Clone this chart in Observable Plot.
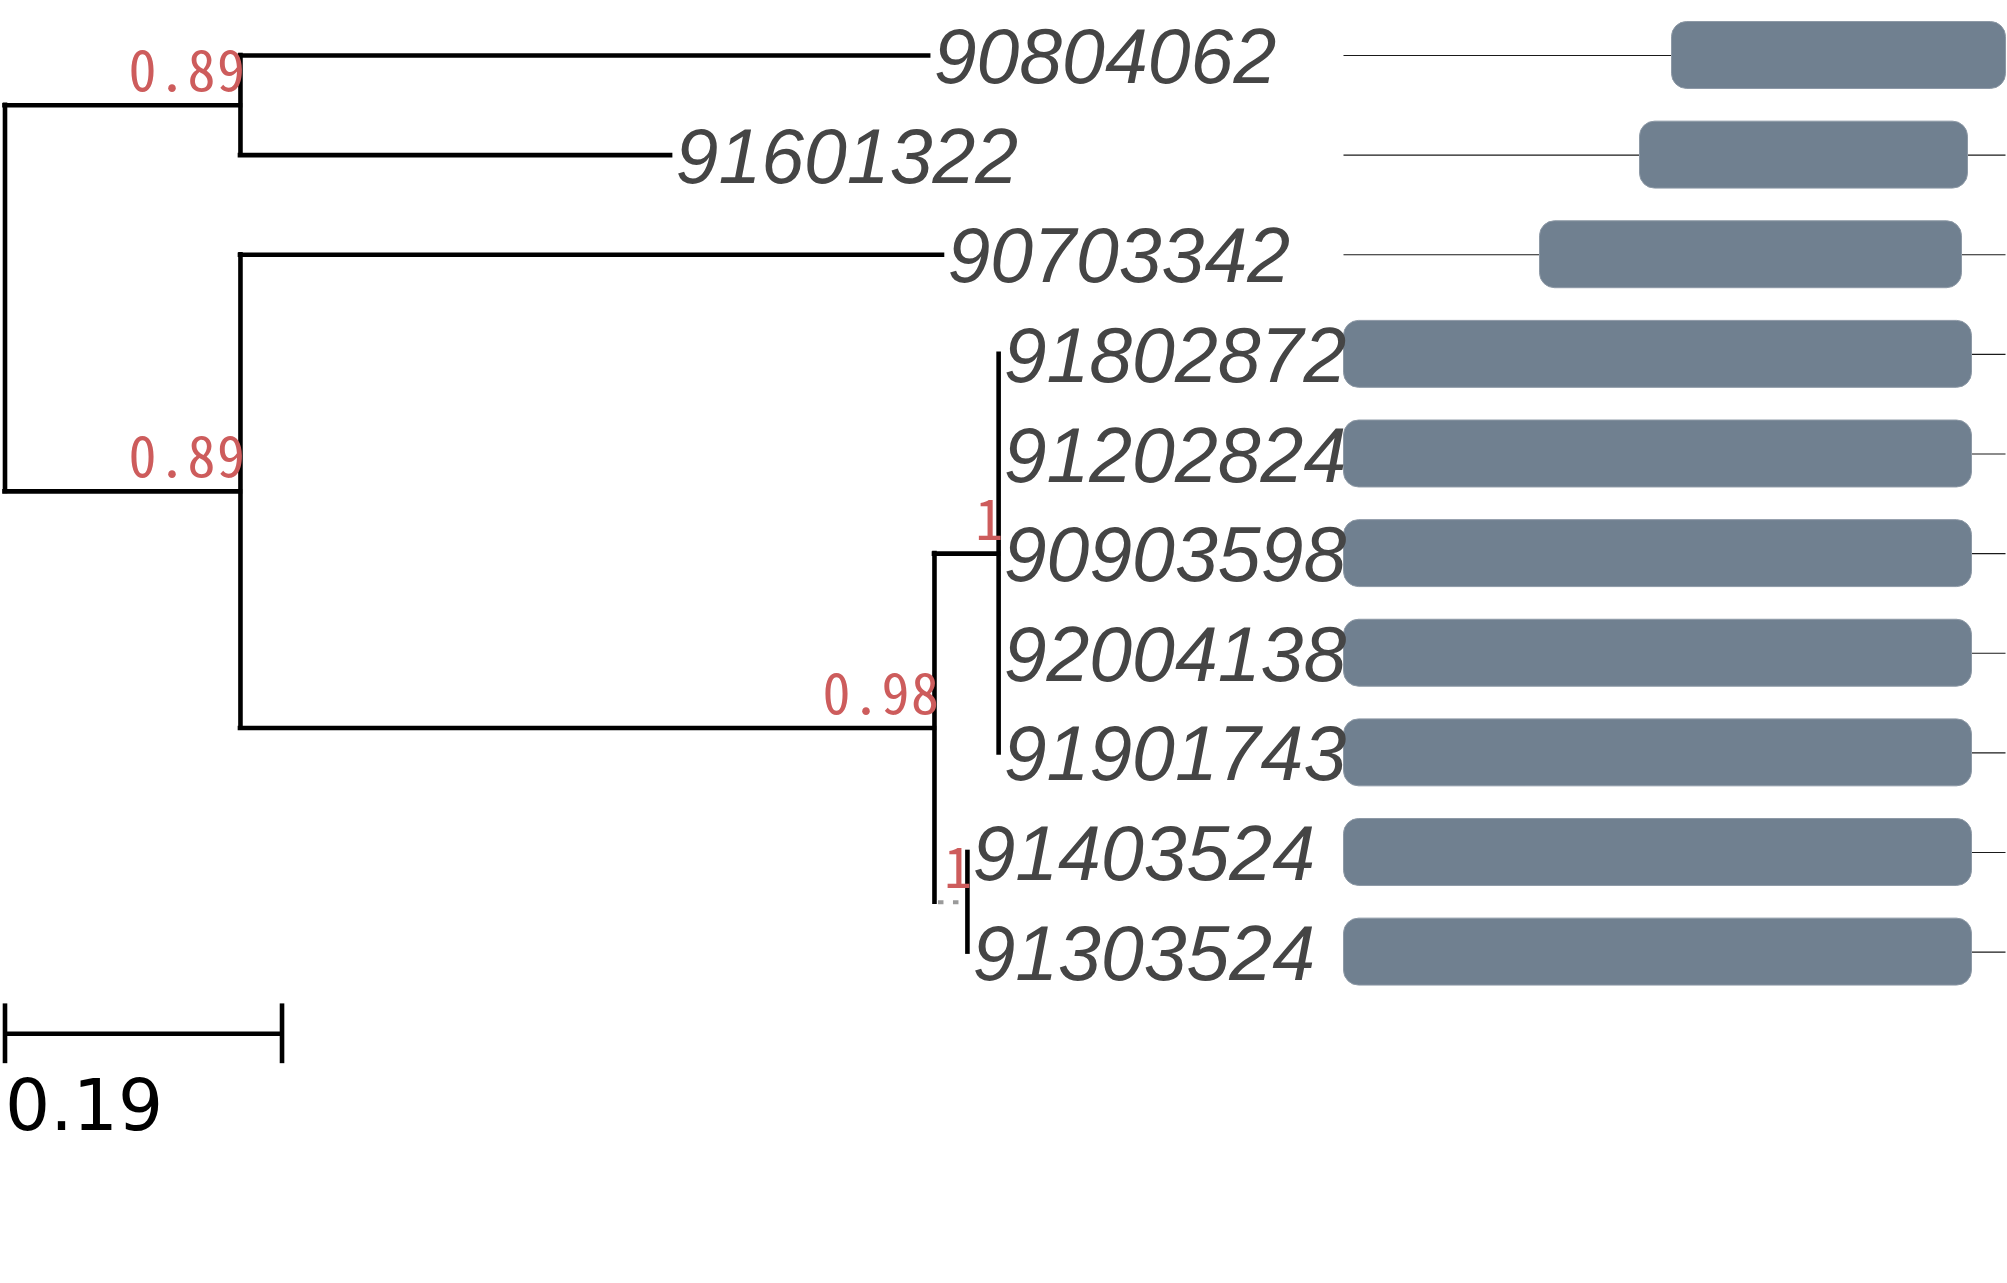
<!DOCTYPE html>
<html>
<head>
<meta charset="utf-8">
<script src="https://cdn.jsdelivr.net/npm/d3@7"></script>
<script src="https://cdn.jsdelivr.net/npm/@observablehq/plot@0.6"></script>
<style>
  html, body { margin: 0; padding: 0; background: #ffffff; }
  #chart { position: relative; width: 2007px; height: 1283px; overflow: hidden; background: #ffffff; }
  #chart svg { position: absolute; left: 0; top: 0; background: transparent !important; overflow: visible; }
  #chart g[fill="#CD5C5C"] text { letter-spacing: 1.5px; }
</style>
</head>
<body>
<div id="chart"></div>
<script>
// ---- Tree data ----
const tipLabels = ["90804062","91601322","90703342","91802872","91202824","90903598","92004138","91901743","91403524","91303524"];
const edgeParent = ["root","root","A","A","B","B","C","C","D","D","D","D","D","E","E"];
const edgeChild  = ["A","B","90804062","91601322","90703342","C","D","E","91802872","91202824","90903598","92004138","91901743","91403524","91303524"];
const edgeLength = [0.1615,0.1615,0.472,0.295,0.4815,0.476,0.044,0.0226,0,0,0,0,0,0,0];
const supportNodes  = ["A","B","C","D","E"];
const supportValues = ["0.89","0.89","0.98","1","1"];
const scaleBarLength = 0.19;

// ---- Domain panel data (aa positions) ----
const proteinLength = [331,331,331,331,331,331,331,331,331,331];
const domainStart   = [164,148,98,0,0,0,0,0,0,0];
const domainEnd     = [331,312,309,314,314,314,314,314,314,314];

// ---- Layout computation from data ----
const xPos = {root: 0};
edgeParent.forEach((p, i) => { xPos[edgeChild[i]] = xPos[p] + edgeLength[i]; });
const childrenOf = {};
edgeParent.forEach((p, i) => { (childrenOf[p] = childrenOf[p] || []).push(edgeChild[i]); });
const yPos = {};
function yOf(n) {
  if (yPos[n] !== undefined) return yPos[n];
  const ti = tipLabels.indexOf(n);
  if (ti >= 0) return (yPos[n] = ti);
  return (yPos[n] = d3.mean(childrenOf[n].map(yOf)));
}
yOf("root");

const horiz = edgeParent.map((p, i) => ({x1: xPos[p], x2: xPos[edgeChild[i]], y: yPos[edgeChild[i]], child: edgeChild[i], len: edgeLength[i]}))
  .filter(d => d.len > 0);
const solidH = horiz.filter(d => d.child !== "E");
const dottedH = horiz.filter(d => d.child === "E");
const vert = Object.keys(childrenOf).map(n => {
  const ys = childrenOf[n].map(c => yPos[c]);
  return {x: xPos[n], y1: d3.min(ys), y2: d3.max(ys)};
});
const tips = tipLabels.map(t => ({x: xPos[t], y: yPos[t], label: t}));
const supports = supportNodes.map((n, i) => ({x: xPos[n], y: yPos[n], label: supportValues[i]}));

const yScale = {domain: [0, 9], range: [55, 951.6], axis: null};
const barY = 9.82;
const lw = 4.6;

const tree = Plot.plot({
  width: 2007, height: 1283, margin: 0,
  style: "background: transparent; overflow: visible;",
  x: {type: "linear", domain: [0, 1], range: [4.5, 1462.5], axis: null},
  y: yScale,
  marks: [
    Plot.ruleY(solidH, {x1: "x1", x2: "x2", y: "y", stroke: "black", strokeWidth: lw, strokeLinecap: "square"}),
    Plot.ruleY(dottedH, {x1: "x1", x2: "x2", y: "y", stroke: "#9a9a9a", strokeWidth: 4, strokeDasharray: "5.5,9.5", strokeDashoffset: -4}),
    Plot.ruleX(vert, {x: "x", y1: "y1", y2: "y2", stroke: "black", strokeWidth: lw, strokeLinecap: "square"}),
    Plot.text(tips, {x: "x", y: "y", text: "label", textAnchor: "start", dx: 5, dy: 3,
      fontSize: 77, fontStyle: "italic", fontFamily: "Liberation Sans, Arial, sans-serif", fill: "#454545"}),
    Plot.text(supports, {x: "x", y: "y", text: "label", textAnchor: "end", dx: 6, dy: -32,
      fontSize: 56, fontFamily: "Noto Sans Mono CJK SC, DejaVu Sans Mono, monospace", fill: "#CD5C5C"}),
    // scale bar
    Plot.ruleY([scaleBarLength], {x1: 0, x2: d => d, y: barY, stroke: "black", strokeWidth: lw}),
    Plot.ruleX([0, scaleBarLength], {x: d => d, y1: barY - 0.3, y2: barY + 0.3, stroke: "black", strokeWidth: lw}),
    Plot.text([scaleBarLength], {x: 0, y: barY, text: d => String(d), textAnchor: "start", dy: 73,
      fontSize: 71, fontFamily: "DejaVu Sans, sans-serif", fill: "black"})
  ]
});

const rows = tipLabels.map((t, i) => ({row: i, len: proteinLength[i], s: domainStart[i], e: domainEnd[i]}));
const domains = Plot.plot({
  width: 2007, height: 1283, margin: 0,
  style: "background: transparent; overflow: visible;",
  x: {type: "linear", domain: [0, 331], range: [1343.5, 2005.5], axis: null},
  y: yScale,
  marks: [
    Plot.ruleY(rows, {x1: 0, x2: "len", y: "row", stroke: "#1a1a1a", strokeWidth: 1.2}),
    Plot.rect(rows, {x1: "s", x2: "e", y1: d => d.row - 0.336, y2: d => d.row + 0.336,
      fill: "#708090", stroke: "#8d99a6", strokeWidth: 1, rx: 15})
  ]
});

const chart = document.getElementById("chart");
chart.appendChild(domains);
chart.appendChild(tree);
</script>
</body>
</html>
